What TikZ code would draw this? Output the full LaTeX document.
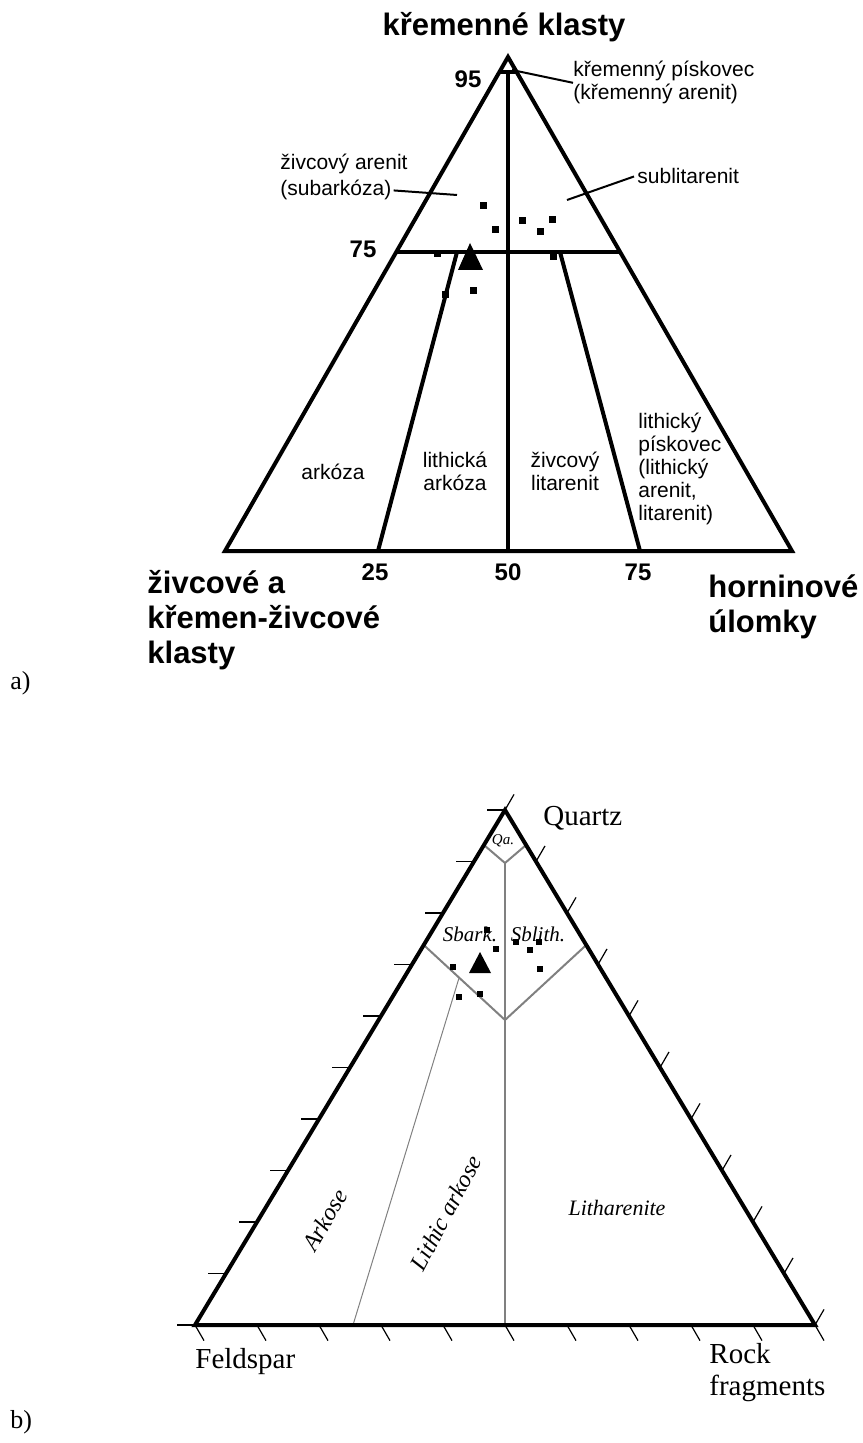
\documentclass[tikz,border=0pt]{standalone}
\usepackage{fontspec}
\setmainfont{Liberation Serif}
\newfontfamily\czsans{Liberation Sans}
\usetikzlibrary{calc}
\definecolor{zoneGray}{RGB}{128,128,128}

\begin{document}
\begin{tikzpicture}[x=0.5pt,y=-0.5pt,
  edge/.style={line width=2pt,line join=miter},
  lead/.style={line width=1pt},
  tickmark/.style={line width=0.6pt},
  zone/.style={line width=1pt,draw=zoneGray},
  thinzone/.style={line width=0.5pt,draw=zoneGray},
  czhead/.style={inner sep=0pt,font=\czsans\bfseries\fontsize{15.5}{17.5}\selectfont},
  cznum/.style={inner sep=0pt,font=\czsans\bfseries\fontsize{12}{14}\selectfont},
  czlab/.style={inner sep=0pt,font=\czsans\fontsize{10.5}{11.5}\selectfont},
  enlab/.style={inner sep=0pt,font=\fontsize{14.5}{16}\selectfont},
  itlab/.style={inner sep=0pt,font=\itshape\fontsize{12}{14}\selectfont},
  paneltag/.style={inner sep=0pt,font=\fontsize{13}{15}\selectfont}]

\useasboundingbox (0,0) rectangle (862,1443);

% a) czech QFL triangle
\coordinate (Qt) at (508,57);
\coordinate (Ft) at (225,551);
\coordinate (Rt) at (792,551);
\draw[edge] (Qt) -- (Ft) -- (Rt) -- cycle;
\draw[edge] ($(Qt)!15/494!(Ft)$) -- ($(Qt)!15/494!(Rt)$);
\draw[edge] ($(Qt)!195/494!(Ft)$) -- ($(Qt)!195/494!(Rt)$);
\draw[edge] (508,72) -- (508,551);
\draw[edge] (457,252) -- (378,551);
\draw[edge] (560,252) -- (640,551);

% samples
\foreach \x/\y in {483/206,495/230,522/221,540/232,552/220,437/254,553/257,473/291,445/295}
  \fill (\x-3.5,\y-3.5) rectangle ++(7,7);
\fill (458,270) -- (483,270) -- (470,243) -- cycle;

% labels
\node[czhead,anchor=base] (qtzA) at (504,36) {křemenné klasty};
\node[czhead,anchor=north west,align=left] (fspA) at (147,570) {živcové a\\křemen-živcové\\klasty};
\node[czhead,anchor=north west,align=left] (rfrA) at (708,574) {horninové\\úlomky};
\node[cznum,anchor=base] (n95) at (468,88) {95};
\node[cznum,anchor=base] (n75) at (363,258) {75};
\node[cznum,anchor=base] (n25) at (375,580) {25};
\node[cznum,anchor=base] (n50) at (508,580) {50};
\node[cznum,anchor=base] (n75b) at (638,580) {75};

\node[czlab,anchor=north west,align=left] (qarA) at (573,61) {křemenný pískovec\\(křemenný arenit)};
\node[czlab,anchor=base west] (sbk1) at (280,170) {živcový arenit};
\node[czlab,anchor=base west] (sbk2) at (280,196) {(subarkóza)};
\node[czlab,anchor=base west] (sltA) at (637,184) {sublitarenit};
\node[czlab] (arkA) at (333,472) {arkóza};
\node[czlab,align=center] (larkA) at (455,471) {lithická\\arkóza};
\node[czlab,align=center] (flitA) at (565,471) {živcový\\litarenit};
\node[czlab,anchor=north west,align=left] (lspA) at (638,413) {lithický\\pískovec\\(lithický\\arenit,\\litarenit)};

\coordinate (qarIn) at (512,70);
\coordinate (sbkIn) at (457,195);
\coordinate (sltIn) at (567,200);
\draw[lead] (qarA.west) -- (qarIn);
\draw[lead] (sbk2.east) ++(2,0) -- (sbkIn);
\draw[lead] (sltA.west) ++(-3,0) -- (sltIn);

\node[paneltag,anchor=base west] (tagA) at (10,689) {a)};

% b) english QFL triangle
\coordinate (Qb) at (505,810);
\coordinate (Fb) at (195,1325);
\coordinate (Rb) at (815,1325);
\foreach \i in {0,...,10} {
  \draw[tickmark] ($(Qb)!\i/10!(Fb)$) -- ++(-18,0);
  \draw[tickmark] ($(Qb)!\i/10!(Rb)$) -- ++(9,-15.6);
  \draw[tickmark] ($(Fb)!\i/10!(Rb)$) -- ++(9,15.6);
}
\draw[zone] ($(Qb)!35/515!(Fb)$) -- (505,863) -- ($(Qb)!35/515!(Rb)$);
\draw[zone] ($(Qb)!135/515!(Fb)$) -- (505,1020) -- ($(Qb)!135/515!(Rb)$);
\draw[zone] (505,863) -- (505,1325);
\draw[thinzone] (459,978) -- (353,1325);
\draw[edge] (Qb) -- (Fb) -- (Rb) -- cycle;

% samples
\foreach \x/\y in {487/930,496/949,516/942,530/950,539/942,540/969,453/967,459/997,480/994}
  \fill (\x-3,\y-3) rectangle ++(6,6);
\fill (469,973) -- (491,973) -- (480,952) -- cycle;

% labels
\node[enlab,anchor=base west] (qzB) at (543,825) {Quartz};
\node[enlab,anchor=base west] (fsB) at (195,1368) {Feldspar};
\node[enlab,anchor=north west,align=left] (rfB) at (709,1343) {Rock\\fragments};
\node[itlab,font=\itshape\fontsize{7.5}{9}\selectfont] (qaB) at (503,841) {Qa.};
\node[itlab,anchor=base,font=\itshape\fontsize{10.5}{12}\selectfont] (sbkB) at (470,941) {Sbark.};
\node[itlab,anchor=base,font=\itshape\fontsize{10.5}{12}\selectfont] (sltB) at (538,941) {Sblith.};
\node[itlab,rotate=60] (arkB) at (325,1220) {Arkose};
\node[itlab,rotate=62] (larkB) at (446,1213) {Lithic arkose};
\node[itlab,font=\itshape\fontsize{11}{13}\selectfont] (litB) at (617,1208) {Litharenite};

\node[paneltag,anchor=base west] (tagB) at (10,1428) {b)};
\end{tikzpicture}
\end{document}
